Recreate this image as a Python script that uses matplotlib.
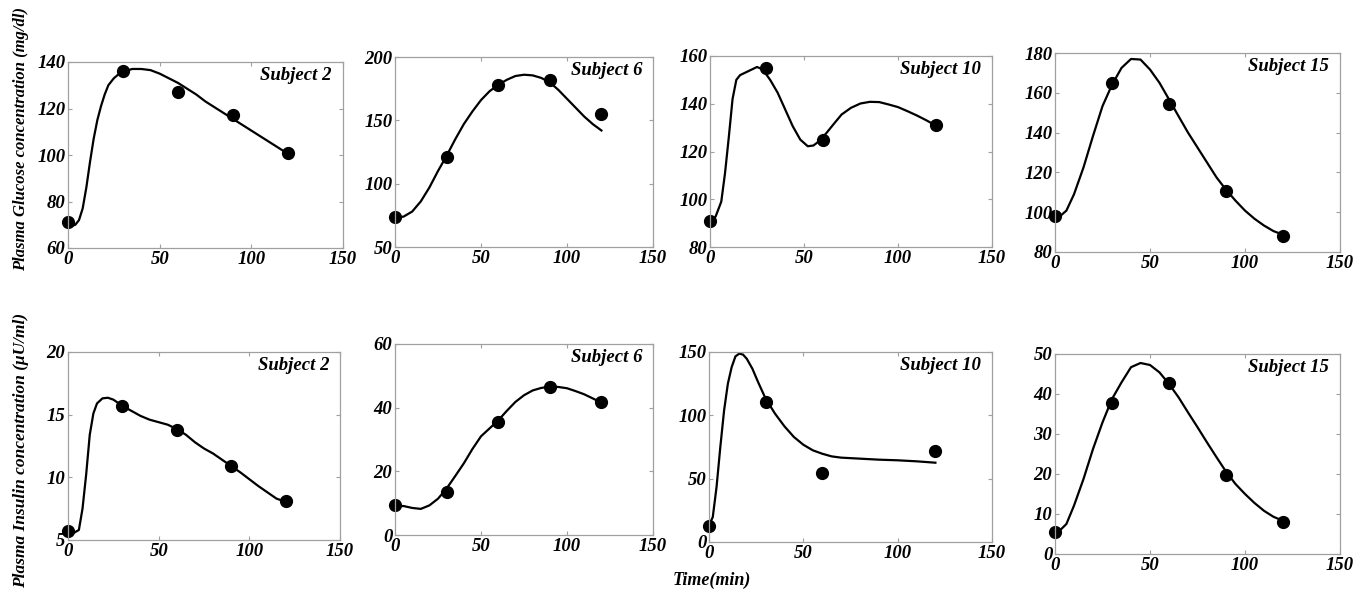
import numpy as np
import matplotlib
matplotlib.use("Agg")
import matplotlib.pyplot as plt

plt.rcParams['font.family'] = ['Liberation Serif', 'DejaVu Serif']
plt.rcParams['font.weight'] = 'bold'
plt.rcParams['font.style'] = 'italic'

# measured points (time in min)
t_meas = [0, 30, 60, 90, 120]

# --- glucose ---
glu_s2_pts = [71, 136, 127, 117, 101]
glu_s2_t = [0, 2, 4, 6, 8, 10, 12, 14, 16, 18, 20, 22, 25, 28, 31, 35, 40, 45, 50, 55, 60,
            65, 70, 75, 80, 85, 90, 95, 100, 105, 110, 115, 120]
glu_s2_fit = [70, 69.5, 70, 72, 77, 86, 97, 107, 115, 121, 126, 130, 133, 135, 136, 137, 137,
              136.5, 135, 133, 131, 128.5, 126, 123, 120.5, 118, 115.5, 113, 110.5, 108,
              105.5, 103, 100.5]

glu_s6_pts = [74, 121, 178, 182, 155]
glu_s6_t = [0, 5, 10, 15, 20, 25, 30, 35, 40, 45, 50, 55, 60, 65, 70, 75, 80, 85, 90, 95,
            100, 105, 110, 115, 120]
glu_s6_fit = [73, 74, 78, 86, 97, 110, 122, 135, 147, 157, 166, 173, 178, 182, 185, 186,
              185.5, 183.5, 180, 174, 167, 160, 153, 147, 142]

glu_s10_pts = [91, 155, 125, None, 131]
glu_s10_t = [0, 3, 6, 8, 10, 12, 14, 16, 20, 25, 28, 32, 36, 40, 44, 48, 52, 55, 58, 62, 66,
             70, 75, 80, 85, 90, 95, 100, 105, 110, 115, 120]
glu_s10_fit = [90, 92.8, 99, 111, 126, 142, 150, 152, 153.5, 155.4, 154.4, 150, 144.6, 137.6,
               130.6, 125, 122.2, 122.5, 124.3, 127.8, 131.7, 135.5, 138.3, 140.1, 140.8,
               140.7, 139.7, 138.6, 136.9, 135.1, 133.1, 130.9]

glu_s15_pts = [98, 165, 154.5, 110.5, 88]
glu_s15_t = [0, 3, 6, 10, 15, 20, 25, 30, 35, 40, 45, 50, 55, 60, 65, 70, 75, 80, 85, 90, 95,
             100, 105, 110, 115, 120]
glu_s15_fit = [97, 98.3, 100.8, 109, 122.5, 138.3, 153.3, 164, 172.5, 177, 176.7, 171.7, 165,
               156.7, 148.3, 140, 132.5, 125, 117.5, 111.3, 105.8, 100.8, 96.7, 93.3, 90.5,
               88.7]

# --- insulin ---
ins_s2_pts = [5.75, 15.7, 13.75, 10.9, 8.1]
ins_s2_t = [0, 3, 6, 8, 10, 12, 14, 16, 19, 22, 25, 30, 35, 40, 45, 50, 55, 60, 65, 70, 75,
            80, 85, 90, 95, 100, 105, 110, 115, 120]
ins_s2_fit = [5.7, 5.55, 5.8, 7.5, 10.2, 13.4, 15.1, 15.9, 16.3, 16.35, 16.2, 15.7, 15.3, 14.9,
              14.6, 14.4, 14.2, 13.85, 13.4, 12.8, 12.3, 11.9, 11.4, 10.9, 10.4, 9.85, 9.3,
              8.8, 8.3, 8.05]

ins_s6_pts = [9.3, 13.5, 35.4, 46.5, 41.7]
ins_s6_t = [0, 5, 10, 15, 20, 25, 30, 35, 40, 45, 50, 55, 60, 65, 70, 75, 80, 85, 90, 95,
            100, 105, 110, 115, 120]
ins_s6_fit = [9, 9.1, 8.5, 8.2, 9.3, 11.4, 14.6, 18.5, 22.5, 27, 31, 33.5, 36, 39, 41.8,
              43.9, 45.4, 46.2, 46.6, 46.5, 46.1, 45.2, 44.2, 42.9, 41.6]

ins_s10_pts = [13, 110.5, 54.5, None, 71.6]
ins_s10_t = [0, 2, 4, 6, 8, 10, 12, 14, 16, 18, 20, 23, 26, 30, 35, 40, 45, 50, 55, 60, 65,
             70, 80, 90, 100, 110, 120]
ins_s10_fit = [13, 19.7, 43.4, 75, 103.9, 125, 138, 146.5, 148.7, 148, 144.7, 136.8, 126.3,
               113.2, 101.3, 91.3, 82.9, 76.8, 72.4, 69.7, 67.6, 66.6, 65.8, 65, 64.5, 63.7,
               62.6]

ins_s15_pts = [5.6, 37.7, 42.7, 19.8, 7.9]
ins_s15_t = [0, 3, 6, 10, 15, 20, 25, 30, 35, 40, 45, 50, 55, 60, 65, 70, 75, 80, 85, 90, 95,
             100, 105, 110, 115, 120]
ins_s15_fit = [5.4, 6.1, 7.5, 12.1, 18.75, 26.25, 32.9, 38.75, 42.9, 46.7, 47.75, 47.25, 45.4,
               42.5, 39.2, 35.4, 31.7, 27.9, 24.2, 20.6, 17.5, 15, 12.75, 10.8, 9.3, 8.3]

subjects = ["Subject 2", "Subject 6", "Subject 10", "Subject 15"]

top_panels = [
    (glu_s2_t, glu_s2_fit, glu_s2_pts, (60, 140), [60, 80, 100, 120, 140]),
    (glu_s6_t, glu_s6_fit, glu_s6_pts, (50, 200), [50, 100, 150, 200]),
    (glu_s10_t, glu_s10_fit, glu_s10_pts, (80, 160), [80, 100, 120, 140, 160]),
    (glu_s15_t, glu_s15_fit, glu_s15_pts, (80, 180), [80, 100, 120, 140, 160, 180]),
]
bot_panels = [
    (ins_s2_t, ins_s2_fit, ins_s2_pts, (5, 20), [5, 10, 15, 20]),
    (ins_s6_t, ins_s6_fit, ins_s6_pts, (0, 60), [0, 20, 40, 60]),
    (ins_s10_t, ins_s10_fit, ins_s10_pts, (0, 150), [0, 50, 100, 150]),
    (ins_s15_t, ins_s15_fit, ins_s15_pts, (0, 50), [0, 10, 20, 30, 40, 50]),
]

W, H = 1371, 593
# axes boxes in pixels: left, top, right, bottom
top_boxes = [(68, 62, 343, 248), (395, 57, 653, 247), (710, 56, 992, 247), (1055, 53, 1340, 252)]
bot_boxes = [(68, 352, 340, 540), (395, 344, 653, 535), (709, 352, 992, 542), (1055, 354, 1340, 554)]

fig = plt.figure(figsize=(W / 100, H / 100), dpi=100)


def draw_panel(box, panel, name):
    l, t, r, b = box
    ax = fig.add_axes([l / W, 1 - b / H, (r - l) / W, (b - t) / H])
    tt, fit, pts, ylim, yticks = panel
    ax.plot(tt, fit, color='black', lw=1.6)
    tx = [x for x, y in zip(t_meas, pts) if y is not None]
    ty = [y for y in pts if y is not None]
    ax.plot(tx, ty, 'o', color='black', ms=8.5, clip_on=False)
    ax.set_xlim(0, 150)
    ax.set_ylim(*ylim)
    ax.set_xticks([0, 50, 100, 150])
    ax.set_yticks(yticks)
    for s in ax.spines.values():
        s.set_color('#a0a0a0')
        s.set_linewidth(0.9)
    ax.tick_params(direction='in', length=3, color='#a0a0a0', labelcolor='black',
                   top=True, right=True, pad=2, labelsize=13.5)
    ax.text(0.96, 0.93, name, transform=ax.transAxes, ha='right', va='center',
            fontsize=13.5)
    return ax


for box, panel, name in zip(top_boxes, top_panels, subjects):
    draw_panel(box, panel, name)
for box, panel, name in zip(bot_boxes, bot_panels, subjects):
    draw_panel(box, panel, name)

fig.text(21 / W, 1 - 139 / H, "Plasma Glucose concentration (mg/dl)", rotation=90,
         ha='center', va='center', fontsize=12)
fig.text(21 / W, 1 - 450 / H, "Plasma Insulin concentration (\u03bcU/ml)", rotation=90,
         ha='center', va='center', fontsize=12.5)
fig.text(712 / W, 1 - 580 / H, "Time(min)", ha='center', va='center', fontsize=13)

fig.savefig("out.png", dpi=100)
